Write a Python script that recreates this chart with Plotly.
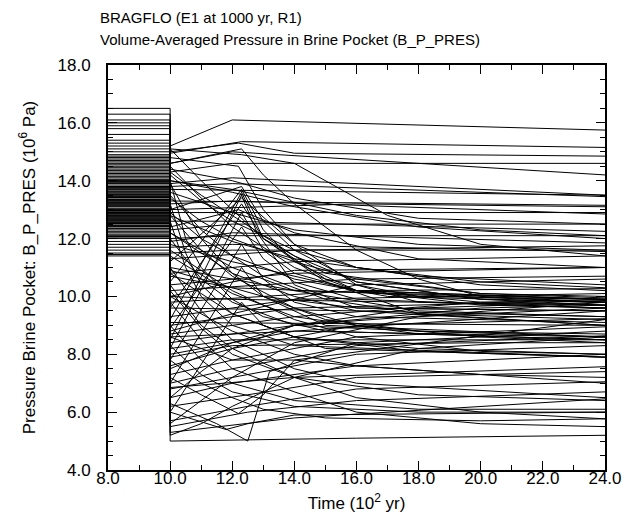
import plotly.graph_objects as go

# Value before the drop at 10 (x10^2 yr), one per realization (10^6 Pa)
PRE_PRESSURE = [
    16.5, 16.3, 16.1, 15.9, 15.6, 15.4, 15.2, 15.0, 14.9, 14.8,
    14.7, 14.6, 14.5, 14.4, 14.35, 14.3, 14.25, 14.2, 14.15, 14.1,
    14.05, 14.0, 13.95, 13.9, 13.85, 13.8, 13.75, 13.7, 13.65, 13.6,
    13.55, 13.5, 13.45, 13.4, 13.35, 13.3, 13.25, 13.2, 13.15, 13.1,
    13.05, 13.0, 12.95, 12.9, 12.85, 12.8, 12.75, 12.7, 12.65, 12.6,
    12.55, 12.5, 12.45, 12.4, 12.35, 12.3, 12.25, 12.2, 12.15, 12.1,
    12.05, 12.0, 11.9, 11.8, 11.7, 11.6, 11.5, 11.4, 14.45, 14.02,
    13.92, 13.72, 13.62, 13.52, 13.42, 13.32, 13.22, 13.12, 13.02, 12.92,
    12.82, 12.72, 12.62, 12.52, 12.42, 13.27, 13.17, 12.97, 12.77, 12.67,
    12.57, 14.55, 14.75, 15.1, 15.3, 15.8, 16.0, 14.65, 13.77, 13.47,
    12.87, 12.07, 11.45, 14.85, 13.97,
]

# (time, pressure) knots of each realization after the drop at 10 (x10^2 yr)
POST_TRAJ = [
    [(10, 15.2), (12, 16.1), (24, 15.75)],
    [(10, 14.95), (12.3, 15.35), (24, 15.15)],
    [(10, 15.0), (12.2, 15.3), (14, 14.95), (24, 14.85)],
    [(10, 14.6), (12, 15.0), (24, 14.2)],
    [(10, 14.3), (12, 14.6), (24, 14.6)],
    [(10, 13.9), (12, 14.1), (24, 13.5)],
    [(10, 13.7), (24, 13.5)],
    [(10, 13.8), (12, 13.9), (24, 13.45)],
    [(10, 13.3), (24, 13.15)],
    [(10, 13.2), (12, 13.3), (24, 12.85)],
    [(10, 14.6), (12.3, 15.1), (13, 14.2), (14, 13.2), (16, 11.6), (18, 10.6), (20, 10.0), (24, 9.8)],
    [(10, 15.1), (12.3, 14.9), (14, 14.6), (17, 12.8), (20, 11.8), (24, 11.4)],
    [(10, 14.3), (11, 13.5), (12, 12.8), (14, 11.4), (16, 10.5), (20, 9.9), (24, 9.7)],
    [(10, 14.8), (12.2, 14.5), (13, 13.0), (14, 11.8), (16, 10.4), (18, 9.8), (24, 9.6)],
    [(10, 15.1), (11, 14.0), (12, 13.0), (13, 12.0), (15, 10.5), (18, 9.4), (24, 9.0)],
    [(10, 13.0), (12.3, 13.8), (13, 12.6), (14, 11.6), (16, 10.5), (20, 9.9), (24, 9.8)],
    [(10, 10.5), (12.3, 13.7), (13, 12.3), (14, 11.2), (16, 10.2), (20, 9.8), (24, 9.7)],
    [(10, 9.2), (12.3, 13.6), (13, 12.0), (15, 10.6), (18, 10.0), (24, 9.9)],
    [(10, 8.5), (12.3, 13.5), (12.8, 12.2), (14, 10.4), (16, 9.6), (24, 9.5)],
    [(10, 11.2), (12.3, 13.4), (14, 11.8), (16, 11.0), (20, 10.5), (24, 10.3)],
    [(10, 12.4), (12.2, 13.0), (14, 12.2), (18, 11.3), (24, 11.0)],
    [(10, 13.5), (11, 12.3), (12, 11.4), (13, 10.7), (15, 9.9), (18, 9.4), (24, 9.2)],
    [(10, 13.9), (11, 12.0), (12, 10.8), (13, 10.0), (15, 9.2), (18, 8.8), (24, 8.6)],
    [(10, 12.8), (11, 11.6), (12, 10.7), (14, 9.6), (16, 9.0), (20, 8.6), (24, 8.4)],
    [(10, 14.0), (10.5, 12.0), (11, 11.0), (12, 9.9), (13, 9.3), (15, 8.8), (24, 8.5)],
    [(10, 13.2), (10.5, 11.5), (11, 10.4), (12, 9.4), (14, 8.6), (18, 8.2), (24, 8.0)],
    [(10, 12.6), (10.5, 11.0), (11, 10.0), (12, 9.0), (14, 8.3), (24, 7.9)],
    [(10, 12.0), (11, 10.6), (12, 9.8), (14, 9.0), (18, 8.8), (24, 8.7)],
    [(10, 11.8), (12, 11.2), (16, 10.2), (24, 9.9)],
    [(10, 11.5), (12, 11.6), (24, 11.6)],
    [(10, 11.9), (12, 12.2), (24, 11.85)],
    [(10, 12.3), (12, 12.5), (24, 12.5)],
    [(10, 12.6), (12, 12.6), (24, 12.25)],
    [(10, 12.0), (12, 12.1), (24, 12.1)],
    [(10, 11.7), (12, 11.8), (24, 11.55)],
    [(10, 11.3), (14, 11.6), (24, 11.75)],
    [(10, 10.8), (14, 11.2), (24, 11.4)],
    [(10, 10.4), (14, 10.8), (24, 11.0)],
    [(10, 10.2), (16, 10.6), (24, 10.7)],
    [(10, 9.8), (16, 10.2), (24, 10.27)],
    [(10, 9.3), (14, 9.9), (24, 10.1)],
    [(10, 9.0), (14, 9.6), (24, 9.86)],
    [(10, 8.7), (14, 9.3), (20, 9.8), (24, 9.9)],
    [(10, 8.4), (14, 9.0), (20, 9.6), (24, 9.7)],
    [(10, 8.0), (14, 8.8), (24, 9.5)],
    [(10, 7.6), (12, 8.2), (16, 9.0), (24, 9.23)],
    [(10, 7.3), (12, 7.8), (16, 8.6), (24, 8.95)],
    [(10, 7.0), (12, 7.5), (16, 8.3), (24, 8.64)],
    [(10, 6.8), (12, 7.2), (16, 8.0), (24, 8.3)],
    [(10, 6.5), (12, 7.0), (16, 7.6), (24, 8.0)],
    [(10, 6.85), (14, 7.2), (24, 7.57)],
    [(10, 6.2), (12.5, 6.6), (16, 7.2), (24, 7.4)],
    [(10, 5.7), (12.5, 6.2), (16, 6.8), (24, 7.05)],
    [(10, 5.5), (12.5, 6.0), (16, 6.4), (24, 6.7)],
    [(10, 5.3), (14, 5.8), (24, 6.46)],
    [(10, 5.0), (16, 5.1), (24, 5.2)],
    [(10, 6.3), (11.5, 5.6), (12.5, 5.0), (13.2, 7.4), (16, 8.4), (24, 8.8)],
    [(10, 7.2), (11, 6.6), (12.2, 5.95), (13, 6.6), (14, 7.8), (24, 9.2)],
    [(10, 7.8), (11, 7.0), (12, 6.5), (13, 6.1), (15, 5.8), (20, 5.7), (24, 5.77)],
    [(10, 8.3), (11, 7.3), (12, 6.7), (14, 6.2), (18, 6.0), (24, 6.0)],
    [(10, 9.0), (11, 7.8), (12, 7.0), (14, 6.4), (18, 6.1), (24, 6.1)],
    [(10, 9.8), (11, 8.5), (12, 7.5), (14, 6.7), (16, 6.0), (20, 5.6), (24, 5.5)],
    [(10, 10.4), (11, 9.0), (12, 8.2), (14, 7.2), (16, 6.5), (20, 6.0), (24, 5.77)],
    [(10, 11.0), (11, 9.5), (12, 8.5), (14, 7.5), (16, 7.0), (24, 6.5)],
    [(10, 8.6), (12, 7.8), (14, 7.8), (16, 7.6), (24, 7.0)],
    [(10, 10.0), (12, 8.8), (14, 8.0), (16, 7.6), (20, 7.3), (24, 7.2)],
    [(10, 11.6), (12, 10.2), (14, 9.2), (16, 8.6), (20, 8.1), (24, 8.0)],
    [(10, 12.2), (12, 10.8), (14, 10.0), (16, 9.5), (24, 9.0)],
    [(10, 11.0), (12, 10.6), (14, 10.2), (24, 9.9)],
    [(10, 10.7), (12, 10.3), (24, 9.8)],
    [(10, 10.0), (12, 9.9), (24, 9.7)],
    [(10, 9.6), (16, 9.5), (24, 9.3)],
    [(10, 9.1), (24, 9.0)],
    [(10, 8.6), (14, 8.8), (24, 8.6)],
    [(10, 8.2), (12, 8.5), (24, 8.5)],
    [(10, 7.9), (12, 8.3), (20, 8.4), (24, 8.4)],
    [(10, 10.9), (13, 10.0), (16, 9.6), (24, 9.5)],
    [(10, 12.9), (11, 12.0), (12, 11.4), (14, 10.6), (17, 10.0), (24, 9.8)],
    [(10, 13.4), (11, 12.6), (12, 12.0), (14, 11.2), (16, 10.6), (20, 10.1), (24, 9.95)],
    [(10, 14.2), (11, 13.3), (12, 12.6), (14, 11.6), (16, 11.0), (20, 10.4), (24, 10.2)],
    [(10, 12.2), (12, 11.0), (14, 10.2), (18, 9.5), (24, 9.3)],
    [(10, 11.4), (12, 10.1), (14, 9.3), (18, 8.7), (24, 8.5)],
    [(10, 10.8), (12, 9.4), (14, 8.6), (18, 8.1), (24, 7.9)],
    [(10, 10.2), (11, 8.9), (12, 8.0), (14, 7.2), (18, 6.6), (24, 6.4)],
    [(10, 12.8), (12, 11.9), (14, 11.3), (18, 10.7), (24, 10.4)],
    [(10, 8.9), (12.3, 12.4), (13, 11.3), (14, 10.5), (16, 9.9), (24, 9.6)],
    [(10, 7.8), (12.3, 11.8), (13, 10.6), (14, 9.8), (16, 9.3), (24, 9.1)],
    [(10, 7.0), (12.3, 11.0), (13, 10.0), (15, 9.0), (24, 8.6)],
    [(10, 6.0), (12.3, 9.8), (13, 9.0), (15, 8.2), (24, 7.9)],
    [(10, 8.2), (12.3, 12.9), (13, 11.6), (14, 10.8), (16, 10.2), (24, 9.9)],
    [(10, 9.6), (12.3, 13.2), (13, 12.0), (15, 10.8), (20, 10.1), (24, 10.0)],
    [(10, 13.6), (12, 12.9), (14, 12.3), (18, 11.8), (24, 11.6)],
    [(10, 14.0), (12, 13.6), (14, 13.1), (18, 12.4), (24, 12.0)],
    [(10, 12.9), (24, 12.9)],
    [(10, 13.0), (16, 13.2), (24, 13.1)],
    [(10, 14.0), (12, 13.7), (16, 12.8), (20, 12.3), (24, 12.1)],
    [(10, 14.4), (12, 14.0), (14, 13.4), (18, 12.7), (24, 12.5)],
    [(10, 14.5), (11, 13.4), (12, 12.4), (14, 11.0), (16, 10.2), (20, 9.7), (24, 9.6)],
    [(10, 5.6), (11, 6.4), (12, 7.2), (14, 8.4), (18, 9.3), (24, 9.6)],
    [(10, 6.5), (11, 7.4), (12, 8.2), (14, 9.0), (18, 9.6), (24, 9.8)],
    [(10, 5.2), (11, 5.6), (12, 6.2), (14, 7.2), (18, 8.2), (24, 8.6)],
    [(10, 7.5), (12, 8.4), (14, 9.0), (24, 9.8)],
    [(10, 6.0), (11.8, 5.4), (12.5, 5.6), (14, 5.9), (24, 6.0)],
    [(10, 10.0), (12, 10.5), (14, 10.9), (24, 11.0)],
    [(10, 8.8), (12, 9.4), (16, 10.4), (24, 10.6)],
]

TIME_START = 8.0
TIME_DROP = 10.0

X_TICKS = [8, 10, 12, 14, 16, 18, 20, 22, 24]
Y_TICKS = [4, 6, 8, 10, 12, 14, 16, 18]

TITLE_LINES = ["BRAGFLO (E1 at 1000 yr, R1)",
               "Volume-Averaged Pressure in Brine Pocket (B_P_PRES)"]

xs, ys = [], []
for pre, knots in zip(PRE_PRESSURE, POST_TRAJ):
    xs += [TIME_START, TIME_DROP] + [k[0] for k in knots] + [None]
    ys += [pre, pre] + [k[1] for k in knots] + [None]

FONT = "Liberation Sans, Arial, sans-serif"
AX_FONT = dict(family=FONT, size=17, color="black")

fig = go.Figure()
fig.add_trace(go.Scatter(x=xs, y=ys, mode="lines",
                         line=dict(color="black", width=1),
                         hoverinfo="skip", showlegend=False))

axis_common = dict(
    showline=True, linewidth=2, linecolor="black", mirror="allticks",
    ticks="inside", ticklen=9, tickwidth=1.2, tickcolor="black",
    showgrid=False, zeroline=False, tickformat=".1f",
    tickfont=AX_FONT,
)

fig.update_xaxes(range=[8, 24], tickvals=X_TICKS,
                 minor=dict(dtick=1, ticks="inside", ticklen=5, tickcolor="black", tickwidth=1),
                 title=dict(text="Time (10<sup>2</sup> yr)", font=AX_FONT, standoff=10),
                 ticklabelstandoff=-8,
                 **axis_common)
fig.update_yaxes(range=[4, 18], tickvals=Y_TICKS,
                 minor=dict(dtick=0.5, ticks="inside", ticklen=5, tickcolor="black", tickwidth=1),
                 title=dict(text="Pressure Brine Pocket: B_P_PRES (10<sup>6</sup> Pa)",
                            font=AX_FONT, standoff=18),
                 ticklabelstandoff=12,
                 **axis_common)

for ypos, line in zip([1.118, 1.064], TITLE_LINES):
    fig.add_annotation(text=line, xref="paper", yref="paper", x=-0.02, y=ypos,
                       xanchor="left", yanchor="middle", align="left", showarrow=False,
                       font=dict(family=FONT, size=15, color="black"))

fig.update_layout(
    width=637, height=520,
    margin=dict(l=100, r=40, t=57, b=58),
    paper_bgcolor="white", plot_bgcolor="white",
    font=dict(family=FONT, size=15, color="black"),
)

fig.write_html("out.html")
